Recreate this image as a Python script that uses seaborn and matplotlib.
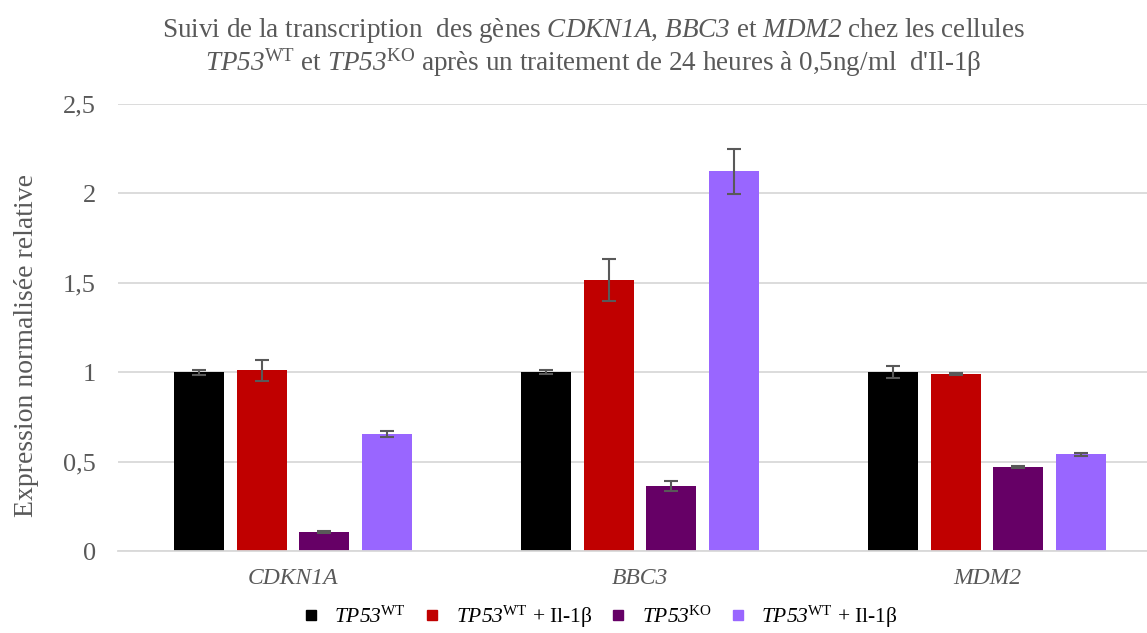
import pandas as pd
import matplotlib
matplotlib.use("Agg")
import matplotlib.pyplot as plt
import seaborn as sns

# data
genes = ["CDKN1A", "BBC3", "MDM2"]
conditions = ["wt", "wt_il1b", "ko", "ko_il1b"]
wt = [1.00, 1.00, 1.00]
wt_il1b = [1.01, 1.515, 0.99]
ko = [0.105, 0.365, 0.47]
ko_il1b = [0.655, 2.125, 0.54]
wt_err = [0.015, 0.01, 0.035]
wt_il1b_err = [0.06, 0.117, 0.005]
ko_err = [0.006, 0.028, 0.005]
ko_il1b_err = [0.016, 0.126, 0.008]

# mathtext: rm is set to italic (so digits are italic too), sf is upright
legend_labels = [r"$TP53^{\mathsf{WT}}$",
                 r"$TP53^{\mathsf{WT}}$ + Il-1β",
                 r"$TP53^{\mathsf{KO}}$",
                 r"$TP53^{\mathsf{WT}}$ + Il-1β"]
colors = ["#000000", "#C00000", "#660066", "#9966FF"]
yticks = [0, 0.5, 1, 1.5, 2, 2.5]
ytick_labels = ["0", "0,5", "1", "1,5", "2", "2,5"]

values = [wt, wt_il1b, ko, ko_il1b]
errors = [wt_err, wt_il1b_err, ko_err, ko_il1b_err]

df = pd.DataFrame({
    "gene": [g for c in conditions for g in genes],
    "condition": [c for c in conditions for g in genes],
    "value": [v for vals in values for v in vals],
})

sns.set_style("white")
plt.rcParams["font.family"] = ["Liberation Serif", "DejaVu Serif"]
plt.rcParams["mathtext.fontset"] = "custom"
plt.rcParams["mathtext.rm"] = "Liberation Serif:italic"
plt.rcParams["mathtext.it"] = "Liberation Serif:italic"
plt.rcParams["mathtext.sf"] = "Liberation Serif"

grey = "#595959"

fig = plt.figure(figsize=(11.47, 6.33), dpi=100)
ax = fig.add_axes([0.1029, 0.1295, 0.8971, 0.7062])

sns.barplot(data=df, x="gene", y="value", hue="condition", order=genes,
            hue_order=conditions, palette=colors, saturation=1, width=0.72, gap=0.2,
            errorbar=None, linewidth=0, ax=ax, legend=False)

# error bars on top of each bar
for cont, errs in zip(ax.containers, errors):
    xs = [p.get_x() + p.get_width() / 2 for p in cont.patches]
    ys = [p.get_height() for p in cont.patches]
    ax.errorbar(xs, ys, yerr=errs, fmt="none", ecolor=grey, elinewidth=1.5,
                capsize=5, capthick=1.5, zorder=5)

ax.set_xlim(-0.504, 2.461)
ax.set_ylim(0, 2.5)
ax.set_yticks(yticks)
ax.set_yticklabels(ytick_labels)
ax.yaxis.grid(True, color="#d9d9d9", linewidth=1.3)
ax.set_axisbelow(True)
for s in ["top", "right", "left"]:
    ax.spines[s].set_visible(False)
ax.spines["bottom"].set_color("#d9d9d9")
ax.spines["bottom"].set_linewidth(1.3)
ax.tick_params(axis="y", length=0, pad=16, labelsize=19, labelcolor=grey)
ax.tick_params(axis="x", length=0, pad=12, labelsize=17, labelcolor=grey)
for lab in ax.get_xticklabels():
    lab.set_style("italic")
ax.set_xlabel("")
ax.set_ylabel("Expression normalisée relative", fontsize=20, color=grey)
ax.yaxis.set_label_coords(-0.077, 0.459)

fig.suptitle("Suivi de la transcription  des gènes $CDKN1A$, $BBC3$ et "
             "$MDM2$ chez les cellules\n"
             "$TP53^{\\mathsf{WT}}$ et $TP53^{\\mathsf{KO}}$ après un "
             "traitement de 24 heures à 0,5ng/ml  d'Il-1β",
             x=0.517, y=0.975, fontsize=19.5, color=grey, linespacing=1.05)

handles = [plt.Line2D([], [], marker="s", linestyle="none", markersize=7,
                      markerfacecolor=c, markeredgecolor=c) for c in colors]
fig.legend(handles, legend_labels, loc="lower center", bbox_to_anchor=(0.523, -0.022),
           ncol=4, frameon=False, fontsize=15.5, handlelength=0.8, handletextpad=0.7,
           columnspacing=0.8, labelcolor="black", borderpad=0.3)

fig.savefig("out.png", dpi=100)
